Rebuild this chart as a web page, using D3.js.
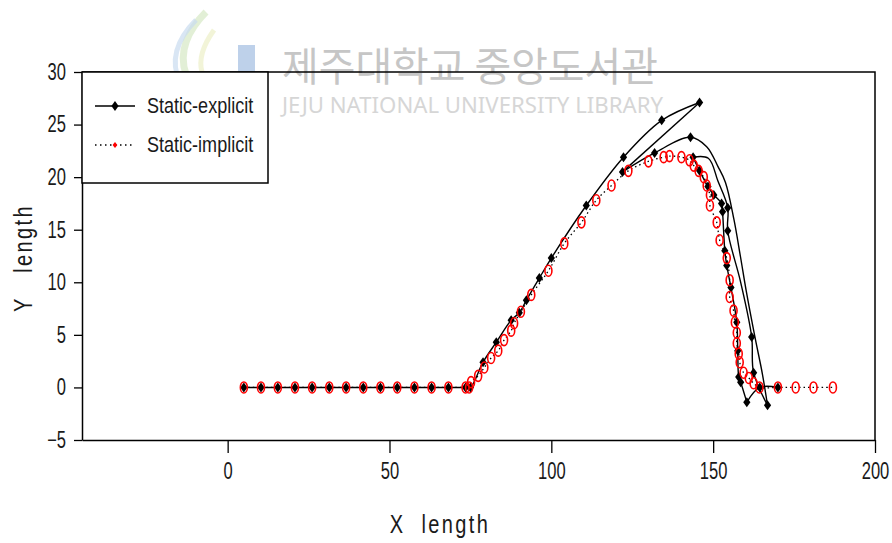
<!DOCTYPE html>
<html>
<head>
<meta charset="utf-8">
<script src="https://cdn.jsdelivr.net/npm/d3@7"></script>
<style>
  body { margin: 0; background: #fff; }
  svg { display: block; }
</style>
</head>
<body>
<svg id="chart" width="892" height="543"></svg>
<script>
// ---- data -------------------------------------------------------------
const xTicks = [0, 50, 100, 150, 200];
const yTicks = [-5, 0, 5, 10, 15, 20, 25, 30];

const seriesNames = ["Static-explicit", "Static-implicit"];

// Static-explicit: nodes in traversal order (the shape folds back on itself)
const explicitX = [5.0, 10.3, 15.5, 20.8, 26.1, 31.4, 36.6, 41.9, 47.2, 52.4, 57.7, 63.0, 68.2, 73.5,
  75.0, 78.9, 83.0, 87.6, 90.1, 92.3, 96.3, 100.0, 110.8, 122.3, 134.1, 145.8,
  122.0, 131.9, 143.0,
  148.0, 151.5, 153.8, 156.4, 158.4, 160.2, 162.9, 165.2, 166.8,
  162.5, 161.9, 158.5, 154.5, 154.5, 151.5, 148.5,
  143.8, 145.8, 148.4, 150.2, 152.6, 152.9, 153.6, 154.2, 155.5, 157.3, 157.6, 157.9, 158.5, 160.4,
  164.4, 170.0];
const explicitY = [0, 0, 0, 0, 0, 0, 0, 0, 0, 0, 0, 0, 0, 0,
  0, 2.4, 4.3, 6.4, 7.1, 8.3, 10.4, 12.3, 17.3, 21.9, 25.4, 27.1,
  20.5, 22.3, 23.8,
  22.9, 21.0, 19.5, 16.0, 12.5, 9.2, 4.8, 1.3, -1.7,
  1.4, 4.8, 10.0, 14.9, 17.1, 19.6, 21.8,
  21.9, 20.6, 19.1, 18.3, 17.5, 16.7, 13.0, 11.6, 9.5, 6.2, 3.5, 1.0, 0.5, -1.4,
  0, 0];
// 1 = node drawn with a marker, 0 = curve-only node
const explicitMarked = [1, 1, 1, 1, 1, 1, 1, 1, 1, 1, 1, 1, 1, 1,
  1, 1, 1, 1, 1, 1, 1, 1, 1, 1, 1, 1,
  1, 1, 1,
  0, 0, 0, 0, 0, 0, 0, 0, 1,
  1, 1, 0, 1, 1, 0, 0,
  1, 1, 1, 1, 1, 1, 1, 1, 1, 1, 1, 1, 1, 1,
  1, 1];

// Static-implicit
const implicitX = [5.0, 10.3, 15.5, 20.8, 26.1, 31.4, 36.6, 41.9, 47.2, 52.4, 57.7, 63.0, 68.2, 73.5, 74.6,
  75.2, 77.4, 79.3, 81.4, 83.6, 85.4, 87.6, 88.5, 90.6, 93.8, 99.1, 104.0, 109.3, 113.9, 118.6, 123.8,
  130.0, 134.7, 136.5, 140.2, 142.7, 144.0, 145.5, 147.1, 148.0, 149.0, 149.0, 151.1, 152.0, 154.2,
  155.1, 155.1, 156.3, 156.7, 157.3, 157.3, 157.9, 158.2, 159.4, 161.0, 162.5, 164.3,
  170.0, 175.5, 181.0, 187.0];
const implicitY = [0, 0, 0, 0, 0, 0, 0, 0, 0, 0, 0, 0, 0, 0, 0,
  0.5, 1.1, 1.9, 2.8, 3.5, 4.5, 5.4, 6.1, 7.2, 8.8, 11.1, 13.7, 15.7, 17.8, 19.2, 20.6,
  21.5, 21.9, 22.0, 21.9, 21.6, 21.1, 20.6, 20.0, 19.2, 18.3, 17.3, 15.7, 14.0, 12.3,
  10.2, 8.6, 7.3, 6.2, 5.2, 4.2, 3.2, 2.4, 1.4, 0.9, 0.4, 0,
  0, 0, 0, 0];

// ---- layout -----------------------------------------------------------
const svg = d3.select("#chart");
const plot = { left: 82, right: 875, top: 72, bottom: 440 };

const x = d3.scaleLinear().domain([-45, 200]).range([plot.left, plot.right]);
const y = d3.scaleLinear().domain([-5, 30]).range([plot.bottom, plot.top]);

const sans = "'Liberation Sans', Arial, sans-serif";
const squeeze = 0.72;   // horizontal condensing of tick labels

// ---- library watermark --------------------------------------------------
const wm = svg.append("g").attr("class", "watermark");
wm.append("path")
  .attr("d", "M206,12 C188,30 178,52 186,74 C190,86 200,94 212,98")
  .attr("fill", "none").attr("stroke", "#d6e8c4").attr("stroke-width", 7).attr("opacity", 0.7);
wm.append("path")
  .attr("d", "M196,20 C176,40 170,62 180,82 C186,92 194,98 204,100")
  .attr("fill", "none").attr("stroke", "#c9dbef").attr("stroke-width", 5).attr("opacity", 0.7);
wm.append("path")
  .attr("d", "M214,30 C204,44 198,58 202,72")
  .attr("fill", "none").attr("stroke", "#ecefc8").attr("stroke-width", 5).attr("opacity", 0.7);
wm.append("rect")
  .attr("x", 238).attr("y", 45).attr("width", 17).attr("height", 48)
  .attr("fill", "#bed1ea");
wm.append("text")
  .attr("x", 282).attr("y", 81)
  .attr("font-family", "'Noto Sans CJK KR', sans-serif")
  .attr("font-size", 40)
  .attr("fill", "#c6c6c6")
  .attr("textLength", 376).attr("lengthAdjust", "spacingAndGlyphs")
  .text("제주대학교 중앙도서관");
wm.append("text")
  .attr("x", 282).attr("y", 113)
  .attr("font-family", "'Noto Sans', sans-serif")
  .attr("font-size", 21)
  .attr("fill", "#d6d6d6")
  .attr("textLength", 381).attr("lengthAdjust", "spacingAndGlyphs")
  .text("JEJU NATIONAL UNIVERSITY  LIBRARY");

// ---- axes -------------------------------------------------------------
const xAxis = d3.axisBottom(x).tickValues(xTicks).tickSize(13).tickPadding(10).tickSizeOuter(0);
const yAxis = d3.axisLeft(y).tickValues(yTicks).tickSize(8).tickPadding(8).tickSizeOuter(0);

const gx = svg.append("g").attr("transform", `translate(0,${plot.bottom})`).call(xAxis);
const gy = svg.append("g").attr("transform", `translate(${plot.left},0)`).call(yAxis);
[gx, gy].forEach(g => {
  g.select(".domain").attr("stroke", "#000").attr("stroke-width", 1.5);
  g.selectAll(".tick line").attr("stroke", "#000").attr("stroke-width", 1.3);
  g.selectAll(".tick text")
    .attr("font-family", sans).attr("font-size", 23).attr("fill", "#1a1a1a")
    .attr("transform", `scale(${squeeze},1)`);
});
gy.selectAll(".tick text").attr("x", -16 / squeeze);

// frame (top and right)
svg.append("path")
  .attr("d", `M${plot.left},${plot.top}H${plot.right}V${plot.bottom}`)
  .attr("fill", "none").attr("stroke", "#000").attr("stroke-width", 1.5);

// axis titles
svg.append("text")
  .attr("transform", "translate(440,533) scale(0.8,1)")
  .attr("text-anchor", "middle")
  .attr("font-family", sans).attr("font-size", 25)
  .attr("letter-spacing", 3).attr("fill", "#1a1a1a")
  .attr("xml:space", "preserve")
  .text("X  length");
svg.append("text")
  .attr("transform", "translate(32,258) rotate(-90) scale(0.8,1)")
  .attr("text-anchor", "middle")
  .attr("font-family", sans).attr("font-size", 25)
  .attr("letter-spacing", 3).attr("fill", "#1a1a1a")
  .attr("xml:space", "preserve")
  .text("Y   length");

// ---- series -----------------------------------------------------------
const explicitPts = explicitX.map((v, i) => ({ x: v, y: explicitY[i], m: explicitMarked[i] }));
const implicitPts = implicitX.map((v, i) => ({ x: v, y: implicitY[i] }));

// split a traversal wherever it reverses direction so each fold stays a sharp cusp
function splitAtFolds(pts) {
  const segs = [];
  let cur = [pts[0]];
  for (let i = 1; i < pts.length; i++) {
    cur.push(pts[i]);
    if (i < pts.length - 1) {
      const a = pts[i - 1], b = pts[i], c = pts[i + 1];
      const d = (x(b.x) - x(a.x)) * (x(c.x) - x(b.x)) + (y(b.y) - y(a.y)) * (y(c.y) - y(b.y));
      if (d < 0) { segs.push(cur); cur = [pts[i]]; }
    }
  }
  segs.push(cur);
  return segs;
}

const line = d3.line().x(d => x(d.x)).y(d => y(d.y)).curve(d3.curveCatmullRom.alpha(0.5));

const gExp = svg.append("g");
gExp.selectAll("path.seg")
  .data(splitAtFolds(explicitPts))
  .join("path")
  .attr("class", "seg")
  .attr("d", line)
  .attr("fill", "none").attr("stroke", "#000").attr("stroke-width", 1.4);

const diamond = "M0,-5L3.6,0L0,5L-3.6,0Z";
gExp.selectAll("path.mk")
  .data(explicitPts.filter(d => d.m))
  .join("path")
  .attr("class", "mk")
  .attr("d", diamond)
  .attr("transform", d => `translate(${x(d.x)},${y(d.y)})`)
  .attr("fill", "#000");

const gImp = svg.append("g");
gImp.append("path")
  .datum(implicitPts)
  .attr("d", line)
  .attr("fill", "none").attr("stroke", "#000").attr("stroke-width", 1.3)
  .attr("stroke-dasharray", "1.5,3");
gImp.selectAll("ellipse")
  .data(implicitPts)
  .join("ellipse")
  .attr("cx", d => x(d.x)).attr("cy", d => y(d.y))
  .attr("rx", 3.5).attr("ry", 5.5)
  .attr("fill", "none").attr("stroke", "#ff0000").attr("stroke-width", 1.6);

// ---- legend -----------------------------------------------------------
const lg = svg.append("g");
lg.append("rect")
  .attr("x", plot.left).attr("y", plot.top)
  .attr("width", 186).attr("height", 111)
  .attr("fill", "#fff").attr("stroke", "#000").attr("stroke-width", 1.5);

const rows = [106, 145];
// explicit sample
lg.append("line").attr("x1", 95).attr("x2", 135).attr("y1", rows[0]).attr("y2", rows[0])
  .attr("stroke", "#000").attr("stroke-width", 1.4);
lg.append("path").attr("d", diamond).attr("transform", `translate(115,${rows[0]})`).attr("fill", "#000");
// implicit sample
lg.append("line").attr("x1", 95).attr("x2", 135).attr("y1", rows[1]).attr("y2", rows[1])
  .attr("stroke", "#000").attr("stroke-width", 1.3).attr("stroke-dasharray", "1.5,3.5");
lg.append("path").attr("d", "M0,-3L2.4,0L0,3L-2.4,0Z").attr("transform", `translate(115,${rows[1]})`).attr("fill", "#ff0000");

lg.selectAll("text.lbl")
  .data(seriesNames)
  .join("text")
  .attr("class", "lbl")
  .attr("transform", (d, i) => `translate(147,${rows[i] + 7}) scale(0.82,1)`)
  .attr("font-family", sans).attr("font-size", 22).attr("fill", "#1a1a1a")
  .text(d => d);
</script>
</body>
</html>
